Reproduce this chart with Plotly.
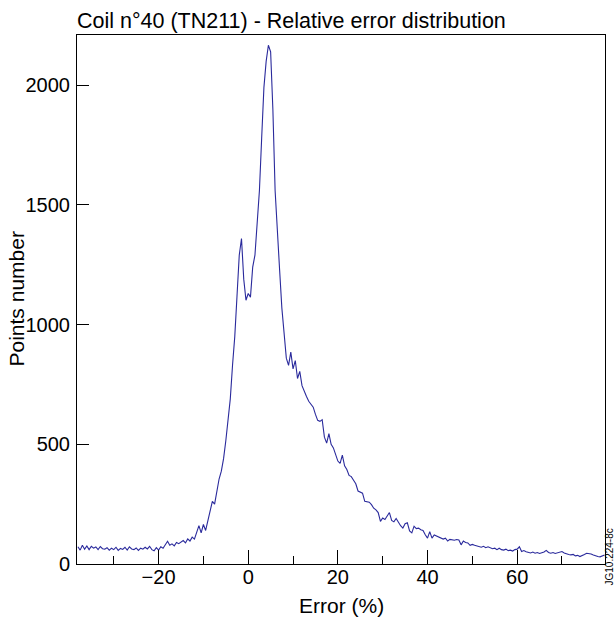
import numpy as np
import plotly.graph_objects as go

# Bin centres (%), 0.5 % bins
x_start = -38.0
x_step = 0.5

# Points number per bin
counts = [
    # -38.0 .. -33.5
    72, 58, 78, 62, 75, 60, 74, 66, 71, 60,
    # -33.0 .. -28.5
    73, 64, 62, 68, 58, 66, 60, 70, 57, 65,
    # -28.0 .. -23.5
    61, 70, 58, 72, 63, 60, 67, 57, 66, 62,
    # -23.0 .. -18.5
    70, 63, 74, 60, 55, 68, 58, 72, 66, 80,
    # -18.0 .. -13.5
    95, 78, 84, 76, 90, 85, 92, 98, 88, 105,
    # -13.0 .. -8.5
    96, 112, 104, 132, 160, 130, 165, 140, 185, 230,
    # -8.0 .. -3.5
    262, 250, 300, 355, 388, 440, 515, 595, 690, 830,
    # -3.0 .. 1.5
    950, 1120, 1290, 1360, 1190, 1102, 1130, 1115, 1240, 1290,
    # 2.0 .. 6.5
    1420, 1560, 1780, 1990, 2100, 2167, 2140, 1900, 1560, 1367,
    # 7.0 .. 11.5
    1230, 1070, 980, 860, 830, 885, 815, 850, 775, 805,
    # 12.0 .. 16.5
    745, 720, 700, 680, 668, 655, 625, 600, 596, 603,
    # 17.0 .. 21.5
    530, 505, 545, 500, 485, 455, 430, 420, 455, 410,
    # 22.0 .. 26.5
    395, 370, 365, 350, 335, 305, 302, 296, 262, 260,
    # 27.0 .. 31.5
    258, 248, 233, 226, 215, 178, 192, 186, 200, 215,
    # 32.0 .. 36.5
    182, 176, 190, 172, 160, 150, 168, 172, 138, 130,
    # 37.0 .. 41.5
    158, 148, 150, 143, 140, 122, 108, 135, 108, 121,
    # 42.0 .. 46.5
    117, 114, 110, 104, 108, 96, 103, 100, 99, 102,
    # 47.0 .. 51.5
    100, 80, 96, 90, 88, 78, 82, 78, 76, 72,
    # 52.0 .. 56.5
    70, 74, 68, 72, 68, 64, 66, 60, 66, 60,
    # 57.0 .. 61.5
    58, 62, 56, 58, 54, 60, 62, 72, 52, 56,
    # 62.0 .. 66.5
    51, 50, 46, 50, 45, 48, 44, 47, 50, 57,
    # 67.0 .. 71.5
    48, 45, 48, 44, 46, 48, 52, 46, 42, 40,
    # 72.0 .. 76.5
    38, 40, 34, 36, 31, 34, 40, 45, 44, 42,
    # 77.0 .. 79.5
    38, 33, 31, 30, 34, 38,
]
bins = [x_start + i * x_step for i in range(len(counts))]

title_text = "Coil n°40 (TN211) - Relative error distribution"
x_title = "Error (%)"
y_title = "Points number"
ref_label = "JG10.224-8c"

x_range = [-38.2, 79.6]
y_range = [0, 2210]
x_major = [-20, 0, 20, 40, 60]
y_major = [0, 500, 1000, 1500, 2000]

W, H = 614, 617
L, R, T, B = 77, 9, 35, 53

FONT = "Liberation Sans, Arial, Helvetica, sans-serif"
FS_TICK = 20
FS_AXT = 21

fig = go.Figure()
fig.add_trace(go.Scatter(
    x=bins, y=counts, mode="lines",
    line=dict(color="#2a2a9c", width=1.1),
    hoverinfo="x+y", showlegend=False,
))

fig.update_layout(
    width=W, height=H,
    margin=dict(l=L, r=R, t=T, b=B, pad=0),
    paper_bgcolor="white", plot_bgcolor="white",
    font=dict(family=FONT, size=FS_TICK, color="black"),
    showlegend=False,
    title=dict(
        text=title_text, x=L / W, xanchor="left", xref="container",
        y=1 - 20 / H, yanchor="middle", yref="container",
        font=dict(family=FONT, size=21.5, color="black"),
    ),
    xaxis=dict(
        range=x_range, tickmode="array", tickvals=x_major,
        ticks="inside", ticklen=14, tickwidth=1, tickcolor="black",
        minor=dict(tickmode="array", tickvals=[-30, -10, 10, 30, 50, 70],
                   ticks="inside", ticklen=8, tickwidth=1, tickcolor="black"),
        showgrid=False, zeroline=False,
        showline=True, linecolor="black", linewidth=1, mirror=True,
        tickfont=dict(family=FONT, size=FS_TICK, color="black"),
        ticklabelstandoff=-5,
    ),
    yaxis=dict(
        range=y_range, tickmode="array", tickvals=y_major,
        ticks="inside", ticklen=12, tickwidth=1, tickcolor="black",
        showgrid=False, zeroline=False,
        showline=True, linecolor="black", linewidth=1, mirror=True,
        tickfont=dict(family=FONT, size=FS_TICK, color="black"),
        ticklabelstandoff=2,
    ),
    annotations=[
        dict(text=x_title, xref="paper", yref="paper", x=0.5, y=-(605 - 564) / (H - T - B),
             xanchor="center", yanchor="middle", showarrow=False,
             font=dict(family=FONT, size=FS_AXT, color="black")),
        dict(text=y_title, xref="paper", yref="paper", x=-(77 - 16) / (W - L - R), y=0.5,
             xanchor="center", yanchor="middle", textangle=-90, showarrow=False,
             font=dict(family=FONT, size=FS_AXT, color="black")),
        dict(text=ref_label, xref="paper", yref="paper", x=(608.5 - L) / (W - L - R),
             y=-(557 - 564) / (H - T - B),
             xanchor="center", yanchor="middle", textangle=-90, showarrow=False,
             font=dict(family=FONT, size=10, color="black")),
    ],
)

fig.write_html("out.html")
